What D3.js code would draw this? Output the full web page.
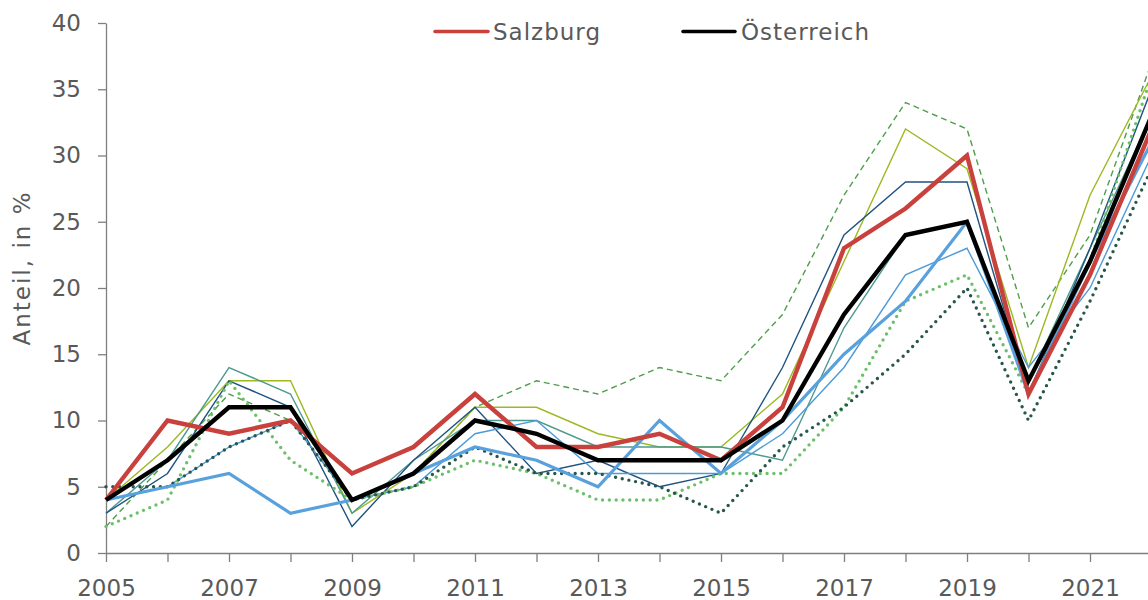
<!DOCTYPE html>
<html>
<head>
<meta charset="utf-8">
<script src="https://cdn.jsdelivr.net/npm/d3@7"></script>
<style>
  html, body { margin: 0; padding: 0; background: #fff; }
  svg { display: block; }
  text { font-family: "DejaVu Sans", sans-serif; fill: #595959; }
</style>
</head>
<body>
<svg id="chart" width="1148" height="600"></svg>
<script>
const years = [2005,2006,2007,2008,2009,2010,2011,2012,2013,2014,2015,2016,2017,2018,2019,2020,2021,2022];
const yTicks = [0,5,10,15,20,25,30,35,40];
const salzburg    = [4,10,9,10,6,8,12,8,8,9,7,11,23,26,30,12,21,32];
const oesterreich = [4,7,11,11,4,6,10,9,7,7,7,10,18,24,25,13,22,33];
const seriesBlueThick  = [4,5,6,3,4,6,8,7,5,10,6,10,15,19,25,12,22,31];
const seriesDarkBlue   = [3,6,13,11,2,7,11,6,7,5,6,14,24,28,28,12,23,35];
const seriesTeal       = [3,7,14,12,3,7,10,10,8,8,8,7,17,24,25,13,23,33];
const seriesOlive      = [4,8,13,13,3,6,11,11,9,8,8,12,22,32,29,14,27,36];
const seriesBlueThin   = [4,5,8,10,4,5,9,10,6,6,6,9,14,21,23,14,20,30];
const seriesGreenDash  = [2,7,12,10,4,6,11,13,12,14,13,18,27,34,32,17,24,37];
const seriesGreenDot   = [2,4,13,7,4,5,7,6,4,4,6,6,11,19,21,12,22,36];
const seriesDarkDot    = [5,5,8,10,4,5,8,6,6,5,3,8,11,15,20,10,19,29];
const legendNames = ["Salzburg", "Österreich"];

const svg = d3.select("#chart");
const x = d3.scaleLinear().domain([2005, 2022]).range([106, 1151.5]);
const y = d3.scaleLinear().domain([0, 40]).range([553, 23]);

const styles = [
  {data: seriesGreenDash, color: "#4e9e4a", w: 1.4, dash: "6,4", cap: "butt"},
  {data: seriesOlive,     color: "#9cb923", w: 1.4, dash: null, cap: "butt"},
  {data: seriesTeal,      color: "#4b9a90", w: 1.4, dash: null, cap: "butt"},
  {data: seriesDarkBlue,  color: "#1f5382", w: 1.4, dash: null, cap: "butt"},
  {data: seriesBlueThin,  color: "#4d9ad8", w: 1.4, dash: null, cap: "butt"},
  {data: seriesGreenDot,  color: "#6cc06a", w: 3.4, dash: "0,6.8", cap: "round"},
  {data: seriesDarkDot,   color: "#27564a", w: 3.4, dash: "0,6.8", cap: "round"},
  {data: seriesBlueThick, color: "#58a1dc", w: 3.2, dash: null, cap: "butt"},
  {data: salzburg,        color: "#c8413c", w: 4.4, dash: null, cap: "butt"},
  {data: oesterreich,     color: "#000000", w: 4.4, dash: null, cap: "butt"}
];

// axes
const yAxis = d3.axisLeft(y).tickValues(yTicks).tickSize(8).tickSizeOuter(0).tickPadding(17);
const gy = svg.append("g").attr("transform", "translate(106,0)").call(yAxis);
gy.selectAll("path, line").attr("stroke", "#7f7f7f").attr("stroke-width", 1.3);
gy.selectAll("text").style("font-size", "23px").attr("fill", "#595959").style("font-family", "DejaVu Sans");

const xAxis = d3.axisBottom(x).tickValues(years).tickSize(9).tickSizeOuter(0).tickPadding(18)
  .tickFormat(d => (d % 2 === 1 ? String(d) : ""));
const gx = svg.append("g").attr("transform", "translate(0,553)").call(xAxis);
gx.selectAll("path, line").attr("stroke", "#7f7f7f").attr("stroke-width", 1.3);
gx.selectAll("text").style("font-size", "23px").attr("fill", "#595959").style("font-family", "DejaVu Sans");

// y title
svg.append("text")
  .attr("transform", "translate(30,268) rotate(-90)")
  .attr("text-anchor", "middle")
  .style("font-size", "23px")
  .style("letter-spacing", "2px")
  .text("Anteil, in %");

// lines
const line = d3.line().x((d, i) => x(years[i])).y(d => y(d));
styles.forEach(s => {
  const p = svg.append("path")
    .datum(s.data)
    .attr("fill", "none")
    .attr("stroke", s.color)
    .attr("stroke-width", s.w)
    .attr("stroke-linejoin", "miter")
    .attr("stroke-linecap", s.cap)
    .attr("d", line);
  if (s.dash) p.attr("stroke-dasharray", s.dash);
});

// legend
const legend = [
  {name: legendNames[0], color: "#c8413c", x1: 435, x2: 488, tx: 493},
  {name: legendNames[1], color: "#000000", x1: 683, x2: 735, tx: 741}
];
legend.forEach(l => {
  svg.append("line").attr("x1", l.x1).attr("x2", l.x2).attr("y1", 31.5).attr("y2", 31.5)
    .attr("stroke", l.color).attr("stroke-width", 3.5).attr("stroke-linecap", "round");
  svg.append("text").attr("x", l.tx).attr("y", 40).style("font-size", "23px")
    .style("letter-spacing", "1px").text(l.name);
});
</script>
</body>
</html>
